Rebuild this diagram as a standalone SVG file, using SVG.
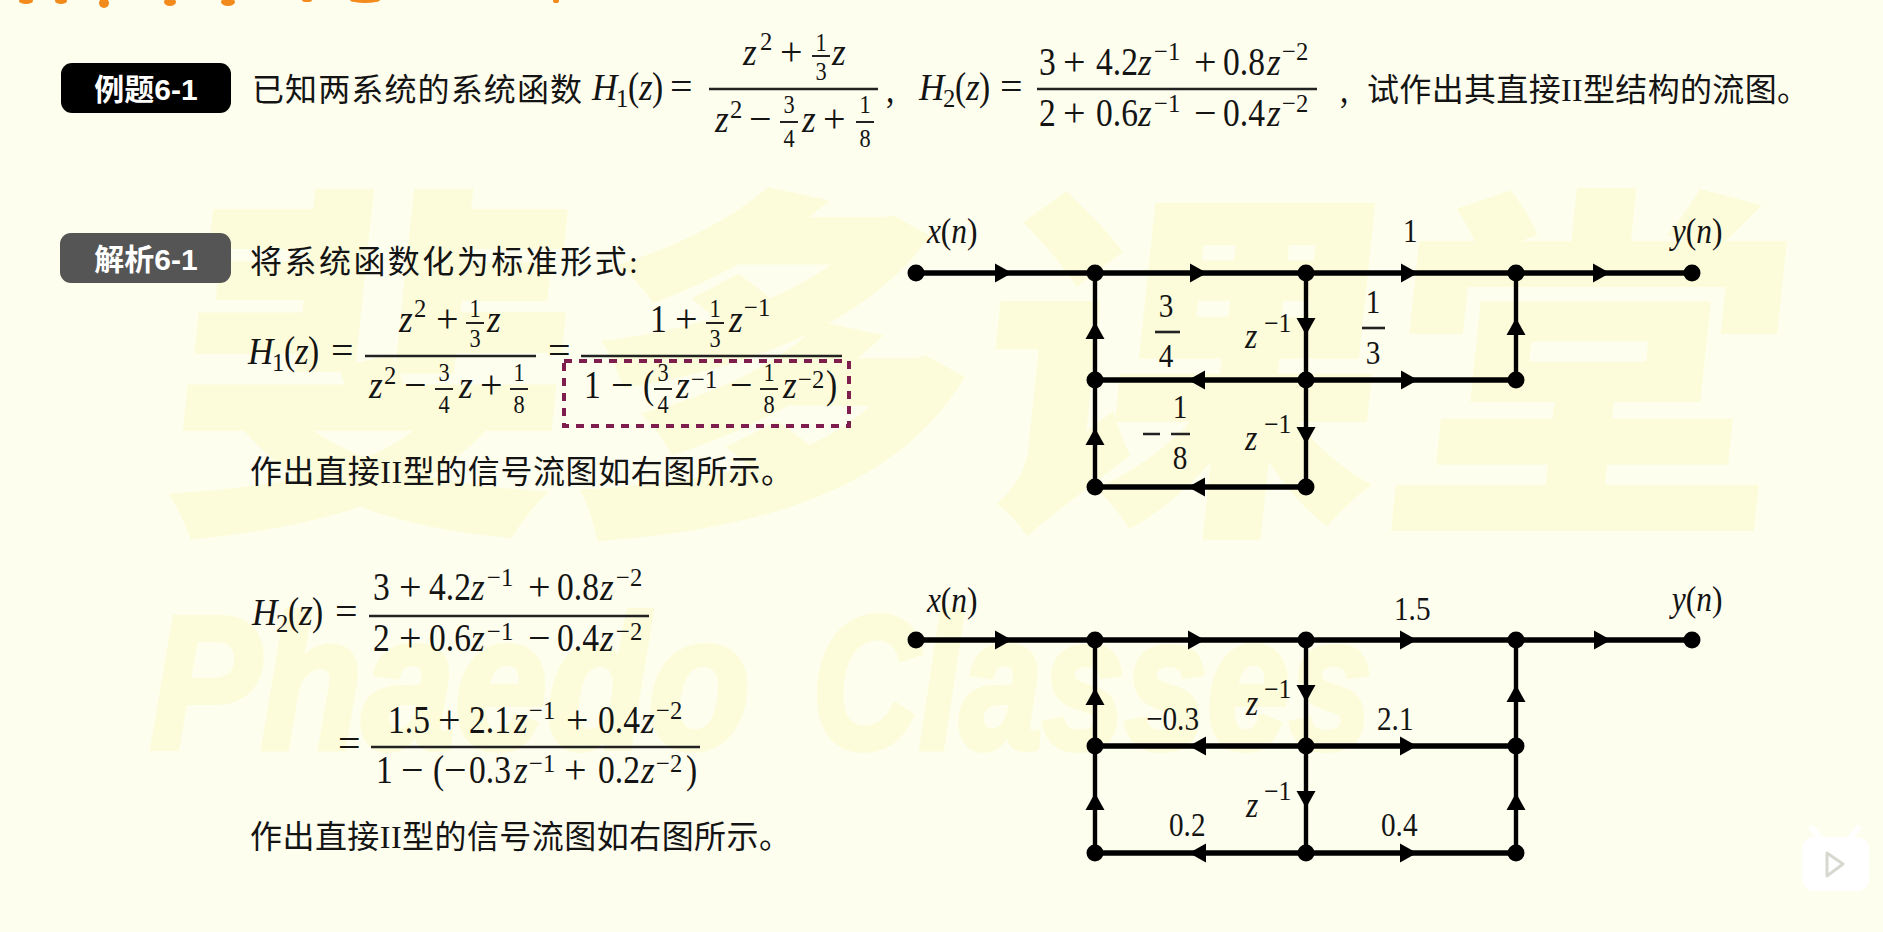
<svg xmlns="http://www.w3.org/2000/svg" width="1883" height="932" viewBox="0 0 1883 932">
<style>
text{fill:#141414;font-family:"Liberation Serif","Noto Sans CJK SC",serif}
.cn{font-size:32px;font-family:"Liberation Serif","Noto Sans CJK SC",sans-serif}
.badge{font-size:30px;fill:#fff;font-family:"Liberation Sans","Noto Sans CJK SC",sans-serif;font-weight:700;text-anchor:middle}
.m,.i,.s,.f,.l,.li,.g{transform-box:fill-box;transform-origin:0 50%;transform:scaleX(.86)}
.m{font-size:39px}
.i{font-size:39px;font-style:italic;transform:scaleX(.9)}
.m.o{font-size:40px;transform:none}
.m.s{font-size:26px;transform:scaleX(.95)}
.f{font-size:26px;text-anchor:middle;transform-origin:50% 50%}
.l{font-size:34px}
.l.c{text-anchor:middle;transform-origin:50% 50%}
.li{font-size:35px;font-style:italic;transform:scaleX(.9)}
.g{font-size:27px;transform:scaleX(.95)}
.bar{stroke:#222;stroke-width:2.6;fill:none}
.sbar{stroke:#222;stroke-width:2;fill:none}
.e{fill:none;stroke:#000;stroke-width:5.5;marker-mid:url(#ah)}
.v{stroke-width:4.4}
.n{fill:#000}
.wm{fill:#fdfcda;font-family:"Noto Sans CJK SC",sans-serif;font-weight:900}
.wl{font-family:"Liberation Sans",sans-serif;font-weight:700;font-style:italic;font-size:190px;stroke:#fdfcda;stroke-width:6}
</style>
<defs>
<marker id="ah" markerUnits="userSpaceOnUse" markerWidth="22" markerHeight="24" refX="19" refY="12" orient="auto"><path d="M2 2.5L19 12L2 21.5Z" fill="#000"/></marker>
</defs>
<rect width="1883" height="932" fill="#fefeee"/>
<g id="watermark">
<text class="wm" x="150" y="505" font-size="370" textLength="1620" lengthAdjust="spacingAndGlyphs" transform="translate(60 0) skewX(-6)">斐多课堂</text>
<text class="wm wl" x="150" y="748" textLength="600" lengthAdjust="spacingAndGlyphs">Phaedo</text>
<text class="wm wl" x="812" y="748" textLength="560" lengthAdjust="spacingAndGlyphs">Classes</text>
</g>
<g id="top-crop" fill="#f28a1c">
<ellipse cx="26" cy="1" rx="7" ry="3"/><ellipse cx="61" cy="1" rx="6" ry="3"/><ellipse cx="104" cy="3" rx="5" ry="5"/><ellipse cx="170" cy="2" rx="6" ry="4"/><ellipse cx="228" cy="2" rx="7" ry="4"/><ellipse cx="307" cy="0" rx="5" ry="2"/><ellipse cx="365" cy="0" rx="15" ry="3"/><ellipse cx="556" cy="1" rx="3" ry="2"/>
</g>
<g id="badge-example"><rect x="61" y="63" width="170" height="50" rx="11" fill="#000"/><text class="badge" x="146" y="100">例题6-1</text></g>
<g id="badge-solution"><rect x="60" y="233" width="171" height="50" rx="11" fill="#555"/><text class="badge" x="146" y="270">解析6-1</text></g>
<g id="question">
<text class="cn" x="252" y="101" textLength="330">已知两系统的系统函数</text>
<text class="i" x="592" y="100">H</text><text class="m s" x="616" y="107">1</text><text class="m" x="628" y="100">(</text><text class="i" x="639" y="100">z</text><text class="m" x="652" y="100">)</text><text class="m o" x="670" y="100">=</text>
<path class="bar" d="M709 89H878"/>
<text class="i" x="743" y="65">z</text><text class="m s" x="760" y="50">2</text><text class="m o" x="780" y="65">+</text><text class="f" x="821" y="51">1</text><path class="sbar" d="M812 56H830"/><text class="f" x="821" y="80">3</text><text class="i" x="832" y="65">z</text>
<text class="i" x="715" y="132">z</text><text class="m s" x="730" y="118">2</text><text class="m o" x="749" y="132">−</text><text class="f" x="789" y="113">3</text><path class="sbar" d="M780 122H798"/><text class="f" x="789" y="147">4</text><text class="i" x="802" y="132">z</text><text class="m o" x="823" y="132">+</text><text class="f" x="865" y="113">1</text><path class="sbar" d="M856 122H874"/><text class="f" x="865" y="147">8</text>
<text class="m" x="886" y="102">,</text>
<text class="i" x="919" y="100">H</text><text class="m s" x="943" y="107">2</text><text class="m" x="955" y="100">(</text><text class="i" x="966" y="100">z</text><text class="m" x="979" y="100">)</text><text class="m o" x="1000" y="100">=</text>
<path class="bar" d="M1037 89H1317"/>
<text class="m" x="1039" y="75">3</text><text class="m o" x="1063" y="75">+</text><text class="m" x="1096" y="75">4.2</text><text class="i" x="1138" y="75">z</text><text class="m s" x="1154" y="60">−1</text><text class="m o" x="1194" y="75">+</text><text class="m" x="1223" y="75">0.8</text><text class="i" x="1267" y="75">z</text><text class="m s" x="1282" y="60">−2</text>
<text class="m" x="1039" y="126">2</text><text class="m o" x="1063" y="126">+</text><text class="m" x="1096" y="126">0.6</text><text class="i" x="1138" y="126">z</text><text class="m s" x="1154" y="112">−1</text><text class="m o" x="1194" y="126">−</text><text class="m" x="1223" y="126">0.4</text><text class="i" x="1267" y="126">z</text><text class="m s" x="1282" y="112">−2</text>
<text class="m" x="1340" y="102">,</text>
<text class="cn" x="1367" y="101" textLength="442">试作出其直接II型结构的流图。</text>
</g>
<g id="solution-h1">
<text class="cn" x="250" y="273" textLength="388">将系统函数化为标准形式:</text>
<text class="i" x="248" y="364">H</text><text class="m s" x="272" y="371">1</text><text class="m" x="284" y="364">(</text><text class="i" x="295" y="364">z</text><text class="m" x="308" y="364">)</text><text class="m o" x="331" y="364">=</text>
<path class="bar" d="M365 356H536"/>
<text class="i" x="399" y="332">z</text><text class="m s" x="414" y="317">2</text><text class="m o" x="436" y="332">+</text><text class="f" x="475" y="317">1</text><path class="sbar" d="M466 323H484"/><text class="f" x="475" y="347">3</text><text class="i" x="487" y="332">z</text>
<text class="i" x="369" y="398">z</text><text class="m s" x="384" y="384">2</text><text class="m o" x="404" y="398">−</text><text class="f" x="444" y="381">3</text><path class="sbar" d="M435 389H453"/><text class="f" x="444" y="413">4</text><text class="i" x="459" y="398">z</text><text class="m o" x="480" y="398">+</text><text class="f" x="519" y="381">1</text><path class="sbar" d="M510 389H528"/><text class="f" x="519" y="413">8</text>
<text class="m o" x="548" y="364">=</text>
<path class="bar" d="M581 356H842"/>
<text class="m" x="650" y="332">1</text><text class="m o" x="675" y="332">+</text><text class="f" x="715" y="317">1</text><path class="sbar" d="M706 323H724"/><text class="f" x="715" y="347">3</text><text class="i" x="729" y="332">z</text><text class="m s" x="744" y="316">−1</text>
<text class="m" x="584" y="398">1</text><text class="m o" x="611" y="398">−</text><text class="m" x="643" y="398">(</text><text class="f" x="663" y="381">3</text><path class="sbar" d="M654 389H672"/><text class="f" x="663" y="413">4</text><text class="i" x="676" y="398">z</text><text class="m s" x="691" y="388">−1</text><text class="m o" x="730" y="398">−</text><text class="f" x="769" y="381">1</text><path class="sbar" d="M760 389H778"/><text class="f" x="769" y="413">8</text><text class="i" x="783" y="398">z</text><text class="m s" x="798" y="388">−2</text><text class="m" x="826" y="398">)</text>
<rect x="564" y="361" width="285" height="65" fill="none" stroke="#7f1d4f" stroke-width="4" stroke-dasharray="8 7"/>
<text class="cn" x="250" y="483" textLength="543">作出直接II型的信号流图如右图所示。</text>
</g>
<g id="solution-h2">
<text class="i" x="252" y="625">H</text><text class="m s" x="276" y="632">2</text><text class="m" x="288" y="625">(</text><text class="i" x="299" y="625">z</text><text class="m" x="312" y="625">)</text><text class="m o" x="335" y="625">=</text>
<path class="bar" d="M369 616H649"/>
<text class="m" x="373" y="600">3</text><text class="m o" x="399" y="600">+</text><text class="m" x="429" y="600">4.2</text><text class="i" x="471" y="600">z</text><text class="m s" x="487" y="586">−1</text><text class="m o" x="528" y="600">+</text><text class="m" x="557" y="600">0.8</text><text class="i" x="600" y="600">z</text><text class="m s" x="616" y="586">−2</text>
<text class="m" x="373" y="651">2</text><text class="m o" x="399" y="651">+</text><text class="m" x="429" y="651">0.6</text><text class="i" x="471" y="651">z</text><text class="m s" x="487" y="640">−1</text><text class="m o" x="528" y="651">−</text><text class="m" x="557" y="651">0.4</text><text class="i" x="600" y="651">z</text><text class="m s" x="616" y="640">−2</text>
<text class="m o" x="338" y="757">=</text>
<path class="bar" d="M371 747H700"/>
<text class="m" x="388" y="733">1.5</text><text class="m o" x="438" y="733">+</text><text class="m" x="469" y="733">2.1</text><text class="i" x="514" y="733">z</text><text class="m s" x="529" y="719">−1</text><text class="m o" x="566" y="733">+</text><text class="m" x="598" y="733">0.4</text><text class="i" x="641" y="733">z</text><text class="m s" x="656" y="719">−2</text>
<text class="m" x="376" y="783">1</text><text class="m o" x="401" y="783">−</text><text class="m" x="433" y="783">(</text><text class="m o" x="444" y="783">−</text><text class="m" x="469" y="783">0.3</text><text class="i" x="514" y="783">z</text><text class="m s" x="529" y="772">−1</text><text class="m o" x="564" y="783">+</text><text class="m" x="598" y="783">0.2</text><text class="i" x="641" y="783">z</text><text class="m s" x="656" y="772">−2</text><text class="m" x="686" y="783">)</text>
<text class="cn" x="250" y="848" textLength="541">作出直接II型的信号流图如右图所示。</text>
</g>
<g id="connectors">
<g id="connectors-1">
<path class="e" d="M916 273H1012H1095"/>
<path class="e" d="M1095 273H1207H1306"/>
<path class="e" d="M1306 273H1418H1516"/>
<path class="e" d="M1516 273H1610H1692"/>
<path class="e v" d="M1306 273V335V380"/>
<path class="e v" d="M1306 380V444V487"/>
<path class="e v" d="M1095 380V322V273"/>
<path class="e v" d="M1095 487V428V380"/>
<path class="e v" d="M1516 380V318V273"/>
<path class="e" d="M1306 380H1188H1095"/>
<path class="e" d="M1306 380H1418H1516"/>
<path class="e" d="M1306 487H1188H1095"/>
</g>
<g id="connectors-2">
<path class="e" d="M916 640H1012H1095"/>
<path class="e" d="M1095 640H1205H1306"/>
<path class="e" d="M1306 640H1417H1516"/>
<path class="e" d="M1516 640H1611H1692"/>
<path class="e v" d="M1306 640V702V746"/>
<path class="e v" d="M1306 746V808V853"/>
<path class="e v" d="M1095 746V688V640"/>
<path class="e v" d="M1095 853V793V746"/>
<path class="e v" d="M1516 746V685V640"/>
<path class="e v" d="M1516 853V793V746"/>
<path class="e" d="M1306 746H1189H1095"/>
<path class="e" d="M1306 746H1417H1516"/>
<path class="e" d="M1306 853H1189H1095"/>
<path class="e" d="M1306 853H1417H1516"/>
</g>
</g>
<g id="graph1-nodes">
<g id="g1-x"><circle class="n" cx="916" cy="273" r="8.5"/></g>
<g id="g1-a"><circle class="n" cx="1095" cy="273" r="8.5"/></g>
<g id="g1-b"><circle class="n" cx="1306" cy="273" r="8.5"/></g>
<g id="g1-c"><circle class="n" cx="1516" cy="273" r="8.5"/></g>
<g id="g1-y"><circle class="n" cx="1692" cy="273" r="8.5"/></g>
<g id="g1-d"><circle class="n" cx="1095" cy="380" r="8.5"/></g>
<g id="g1-e"><circle class="n" cx="1306" cy="380" r="8.5"/></g>
<g id="g1-f"><circle class="n" cx="1516" cy="380" r="8.5"/></g>
<g id="g1-g"><circle class="n" cx="1095" cy="487" r="8.5"/></g>
<g id="g1-h"><circle class="n" cx="1306" cy="487" r="8.5"/></g>
</g>
<g id="graph2-nodes">
<g id="g2-x"><circle class="n" cx="916" cy="640" r="8.5"/></g>
<g id="g2-a"><circle class="n" cx="1095" cy="640" r="8.5"/></g>
<g id="g2-b"><circle class="n" cx="1306" cy="640" r="8.5"/></g>
<g id="g2-c"><circle class="n" cx="1516" cy="640" r="8.5"/></g>
<g id="g2-y"><circle class="n" cx="1692" cy="640" r="8.5"/></g>
<g id="g2-d"><circle class="n" cx="1095" cy="746" r="8.5"/></g>
<g id="g2-e"><circle class="n" cx="1306" cy="746" r="8.5"/></g>
<g id="g2-f"><circle class="n" cx="1516" cy="746" r="8.5"/></g>
<g id="g2-g"><circle class="n" cx="1095" cy="853" r="8.5"/></g>
<g id="g2-h"><circle class="n" cx="1306" cy="853" r="8.5"/></g>
<g id="g2-i"><circle class="n" cx="1516" cy="853" r="8.5"/></g>
</g>
<g id="graph1-labels">
<text class="li" x="927" y="243">x<tspan font-style="normal">(</tspan>n<tspan font-style="normal">)</tspan></text>
<text class="li" x="1672" y="243">y<tspan font-style="normal">(</tspan>n<tspan font-style="normal">)</tspan></text>
<text class="l" x="1403" y="242">1</text>
<text class="l c" x="1166" y="317">3</text><path class="bar" d="M1155 332H1180"/><text class="l c" x="1166" y="367">4</text>
<text class="l c" x="1373" y="313">1</text><path class="bar" d="M1362 328H1385"/><text class="l c" x="1373" y="364">3</text>
<text class="li" x="1245" y="348">z</text><text class="g" x="1264" y="332">−1</text>
<text class="li" x="1245" y="450">z</text><text class="g" x="1264" y="433">−1</text>
<text class="l c" x="1180" y="418">1</text><path class="bar" d="M1143 434H1160M1171 434H1190"/><text class="l c" x="1180" y="469">8</text>
</g>
<g id="graph2-labels">
<text class="li" x="927" y="612">x<tspan font-style="normal">(</tspan>n<tspan font-style="normal">)</tspan></text>
<text class="li" x="1672" y="611">y<tspan font-style="normal">(</tspan>n<tspan font-style="normal">)</tspan></text>
<text class="l" x="1394" y="620">1.5</text>
<text class="l" x="1146" y="730">−0.3</text>
<text class="l" x="1377" y="730">2.1</text>
<text class="l" x="1169" y="836">0.2</text>
<text class="l" x="1381" y="836">0.4</text>
<text class="li" x="1246" y="715">z</text><text class="g" x="1264" y="698">−1</text>
<text class="li" x="1246" y="817">z</text><text class="g" x="1264" y="800">−1</text>
</g>
<g id="player-icon">
<path d="M1820 838L1812 828M1850 838L1858 828" stroke="#fff" stroke-width="6" stroke-linecap="round" fill="none"/>
<rect x="1802" y="837" width="67" height="54" rx="12" fill="#fff"/>
<path d="M1827 853L1843 864L1827 876Z" fill="#fff" stroke="#d8d8d0" stroke-width="3" stroke-linejoin="round"/>
</g>
</svg>
